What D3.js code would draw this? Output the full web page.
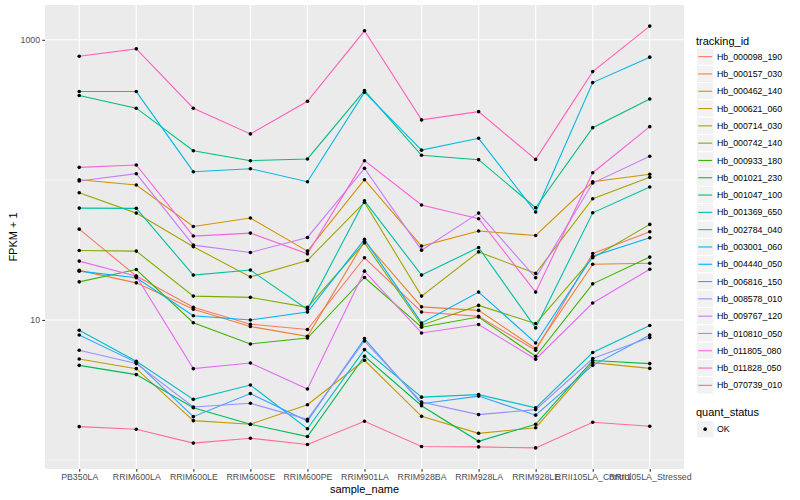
<!DOCTYPE html>
<html>
<head>
<meta charset="utf-8">
<script src="https://cdn.jsdelivr.net/npm/d3@7"></script>
<style>
  html, body { margin: 0; padding: 0; background: #fff; }
  svg { display: block; font-family: "Liberation Sans", Arial, Helvetica, sans-serif; }
</style>
</head>
<body>
<svg id="chart" width="800" height="500"></svg>
<script>
// ---- data (FPKM + 1) ----
const categories = ["PB350LA", "RRIM600LA", "RRIM600LE", "RRIM600SE", "RRIM600PE", "RRIM901LA",
  "RRIM928BA", "RRIM928LA", "RRIM928LE", "RRII105LA_Control", "RRII105LA_Stressed"];

const trackingIds = ["Hb_000098_190", "Hb_000157_030", "Hb_000462_140", "Hb_000621_060", "Hb_000714_030",
  "Hb_000742_140", "Hb_000933_180", "Hb_001021_230", "Hb_001047_100", "Hb_001369_650",
  "Hb_002784_040", "Hb_003001_060", "Hb_004440_050", "Hb_006816_150", "Hb_008578_010",
  "Hb_009767_120", "Hb_010810_050", "Hb_011805_080", "Hb_011828_050", "Hb_070739_010"];

const hb_000098_190 = [44.5, 20.6, 12.3, 9.32, 8.54, 27.8, 11.4, 10.6, 6.07, 29.8, 42.6];
const hb_000157_030 = [22.6, 18.4, 11.9, 8.97, 7.64, 36.5, 12.4, 11.7, 6.25, 25.0, 25.4];
const hb_000462_140 = [100.3, 91.9, 46.5, 53.4, 31.0, 100.3, 33.7, 43.1, 40.1, 97.0, 109.6];
const hb_000621_060 = [5.26, 4.49, 1.91, 1.80, 2.48, 5.15, 2.05, 1.55, 1.70, 4.96, 4.51];
const hb_000714_030 = [80.9, 57.9, 33.3, 20.3, 26.6, 69.1, 14.8, 30.6, 21.5, 73.3, 104.3];
const hb_000742_140 = [31.3, 31.0, 14.8, 14.5, 12.3, 35.5, 9.17, 12.7, 9.42, 27.8, 48.1];
const hb_000933_180 = [18.7, 22.9, 9.55, 6.74, 7.43, 20.1, 8.87, 10.5, 5.50, 18.1, 28.1];
const hb_001021_230 = [4.74, 4.07, 2.36, 1.80, 1.47, 5.50, 2.44, 1.36, 1.80, 5.13, 4.88];
const hb_001047_100 = [400, 325, 161.6, 137.1, 141, 434, 149.8, 139.4, 63.2, 236, 378];
const hb_001369_650 = [62.9, 62.6, 20.9, 22.7, 11.9, 70.9, 20.9, 32.9, 8.77, 58.2, 88.9];
const hb_002784_040 = [8.44, 5.07, 2.71, 3.43, 1.67, 6.14, 2.81, 2.93, 2.36, 5.85, 9.12];
const hb_003001_060 = [427, 427, 114.4, 120.2, 97.0, 423, 163, 198, 58.9, 495, 752];
const hb_004440_050 = [22.3, 20.0, 10.7, 10.0, 11.4, 37.6, 9.52, 15.8, 6.85, 28.5, 38.6];
const hb_006816_150 = [7.81, 4.98, 2.04, 2.98, 1.90, 7.36, 2.52, 2.86, 2.09, 4.74, 7.81];
const hb_008578_010 = [6.07, 4.88, 2.39, 2.54, 1.95, 7.07, 2.59, 2.11, 2.29, 5.30, 7.48];
const hb_009767_120 = [98.1, 110.7, 34.2, 30.3, 38.8, 120.9, 31.5, 57.9, 20.0, 94.9, 147.3];
const hb_010810_050 = [26.3, 20.5, 4.49, 4.93, 3.21, 22.3, 8.07, 9.27, 5.24, 13.2, 23.0];
const hb_011805_080 = [122.9, 127.7, 39.7, 41.7, 29.7, 137.1, 66.1, 52.8, 15.8, 112.5, 239.9];
const hb_011828_050 = [764, 862, 325, 213, 364, 1160, 268, 307, 140, 593, 1253];
const hb_070739_010 = [1.73, 1.66, 1.32, 1.43, 1.29, 1.89, 1.25, 1.24, 1.22, 1.86, 1.74];

const seriesValues = [hb_000098_190, hb_000157_030, hb_000462_140, hb_000621_060, hb_000714_030,
  hb_000742_140, hb_000933_180, hb_001021_230, hb_001047_100, hb_001369_650,
  hb_002784_040, hb_003001_060, hb_004440_050, hb_006816_150, hb_008578_010,
  hb_009767_120, hb_010810_050, hb_011805_080, hb_011828_050, hb_070739_010];

const yTickValues = [10, 1000];
const yMinorValues = [1, 100];
const quantStatus = ["OK"];

// ggplot hue palette for 20 levels
const palette = ["#F8766D", "#EA8331", "#D89000", "#C09B00", "#A3A500", "#7CAE00", "#39B600", "#00BB4E",
  "#00BF7D", "#00C1A3", "#00BFC4", "#00BAE0", "#00B0F6", "#35A2FF", "#9590FF", "#C77CFF",
  "#E76BF3", "#FA62DB", "#FF62BC", "#FF6C91"];

const series = trackingIds.map((id, i) => ({
  id, color: palette[i],
  values: categories.map((c, j) => ({ cat: c, v: seriesValues[i][j] }))
}));

// ---- layout ----
const svg = d3.select("#chart");
const panel = { left: 45, right: 684, top: 5, bottom: 469 };

const x = d3.scalePoint().domain(categories).range([panel.left, panel.right]).padding(0.6);

const allVals = seriesValues.flat();
const lmin = Math.log10(d3.min(allVals)), lmax = Math.log10(d3.max(allVals));
const pad = (lmax - lmin) * 0.05;
const y = d3.scaleLog().domain([Math.pow(10, lmin - pad), Math.pow(10, lmax + pad)])
  .range([panel.bottom, panel.top]);

// panel background
svg.append("rect").attr("x", panel.left).attr("y", panel.top)
  .attr("width", panel.right - panel.left).attr("height", panel.bottom - panel.top)
  .attr("fill", "#EBEBEB");

// grid
const grid = svg.append("g");
grid.selectAll(".minor").data(yMinorValues).join("line")
  .attr("x1", panel.left).attr("x2", panel.right)
  .attr("y1", d => y(d)).attr("y2", d => y(d))
  .attr("stroke", "#fff").attr("stroke-width", 0.55);
grid.selectAll(".major").data(yTickValues).join("line")
  .attr("x1", panel.left).attr("x2", panel.right)
  .attr("y1", d => y(d)).attr("y2", d => y(d))
  .attr("stroke", "#fff").attr("stroke-width", 1.1);
grid.selectAll(".vmajor").data(categories).join("line")
  .attr("x1", d => x(d)).attr("x2", d => x(d))
  .attr("y1", panel.top).attr("y2", panel.bottom)
  .attr("stroke", "#fff").attr("stroke-width", 1.1);

// lines
const line = d3.line().x(d => x(d.cat)).y(d => y(d.v));
svg.append("g").selectAll("path").data(series).join("path")
  .attr("d", d => line(d.values))
  .attr("fill", "none").attr("stroke", d => d.color).attr("stroke-width", 1.1);

// points
svg.append("g").selectAll("g").data(series).join("g")
  .selectAll("circle").data(d => d.values).join("circle")
  .attr("cx", d => x(d.cat)).attr("cy", d => y(d.v)).attr("r", 1.8)
  .attr("fill", "#000");

// axes
const yAxis = d3.axisLeft(y).tickValues(yTickValues).tickFormat(d3.format("d"))
  .tickSize(2.75).tickPadding(2.2);
const gy = svg.append("g").attr("transform", `translate(${panel.left},0)`).call(yAxis);
gy.select(".domain").remove();
gy.selectAll(".tick line").attr("stroke", "#333").attr("stroke-width", 1.07);
gy.selectAll(".tick text").attr("fill", "#4D4D4D").attr("font-size", "8.8px")
  .attr("font-family", "Liberation Sans, Arial, sans-serif");

const xAxis = d3.axisBottom(x).tickSize(2.75).tickPadding(2.2);
const gx = svg.append("g").attr("transform", `translate(0,${panel.bottom})`).call(xAxis);
gx.select(".domain").remove();
gx.selectAll(".tick line").attr("stroke", "#333").attr("stroke-width", 1.07);
gx.selectAll(".tick text").attr("fill", "#4D4D4D").attr("font-size", "8.8px")
  .attr("font-family", "Liberation Sans, Arial, sans-serif");

// axis titles
svg.append("text").attr("x", (panel.left + panel.right) / 2).attr("y", 492.5)
  .attr("text-anchor", "middle").attr("font-size", "11px").attr("fill", "#000")
  .text("sample_name");
svg.append("text").attr("transform", `translate(17,${(panel.top + panel.bottom) / 2}) rotate(-90)`)
  .attr("text-anchor", "middle").attr("font-size", "11px").attr("fill", "#000")
  .text("FPKM + 1");

// legend: tracking_id
const lg = svg.append("g");
const keyX = 696.5, keyW = 17.3, keyTop = 48, keyH = 17.3;
lg.append("text").attr("x", 696).attr("y", 44.5).attr("font-size", "11px").attr("fill", "#000")
  .text("tracking_id");
const items = lg.selectAll("g.item").data(series).join("g").attr("class", "item")
  .attr("transform", (d, i) => `translate(${keyX},${keyTop + i * keyH})`);
items.append("rect").attr("width", keyW).attr("height", keyH)
  .attr("fill", "#F2F2F2").attr("stroke", "#fff").attr("stroke-width", 1);
items.append("line").attr("x1", 1.7).attr("x2", keyW - 1.7)
  .attr("y1", keyH / 2).attr("y2", keyH / 2)
  .attr("stroke", d => d.color).attr("stroke-width", 1.1);
items.append("text").attr("x", keyW + 3.2).attr("y", keyH / 2).attr("dy", "0.35em")
  .attr("font-size", "8.8px").attr("fill", "#000").text(d => d.id);

// legend: quant_status
const qTop = 420.5;
lg.append("text").attr("x", 696).attr("y", 416).attr("font-size", "11px").attr("fill", "#000")
  .text("quant_status");
const qItems = lg.selectAll("g.q").data(quantStatus).join("g").attr("class", "q")
  .attr("transform", (d, i) => `translate(${keyX},${qTop + i * keyH})`);
qItems.append("rect").attr("width", keyW).attr("height", keyH)
  .attr("fill", "#F2F2F2").attr("stroke", "#fff").attr("stroke-width", 1);
qItems.append("circle").attr("cx", keyW / 2).attr("cy", keyH / 2).attr("r", 1.8).attr("fill", "#000");
qItems.append("text").attr("x", keyW + 3.2).attr("y", keyH / 2).attr("dy", "0.35em")
  .attr("font-size", "8.8px").attr("fill", "#000").text(d => d);
</script>
</body>
</html>
